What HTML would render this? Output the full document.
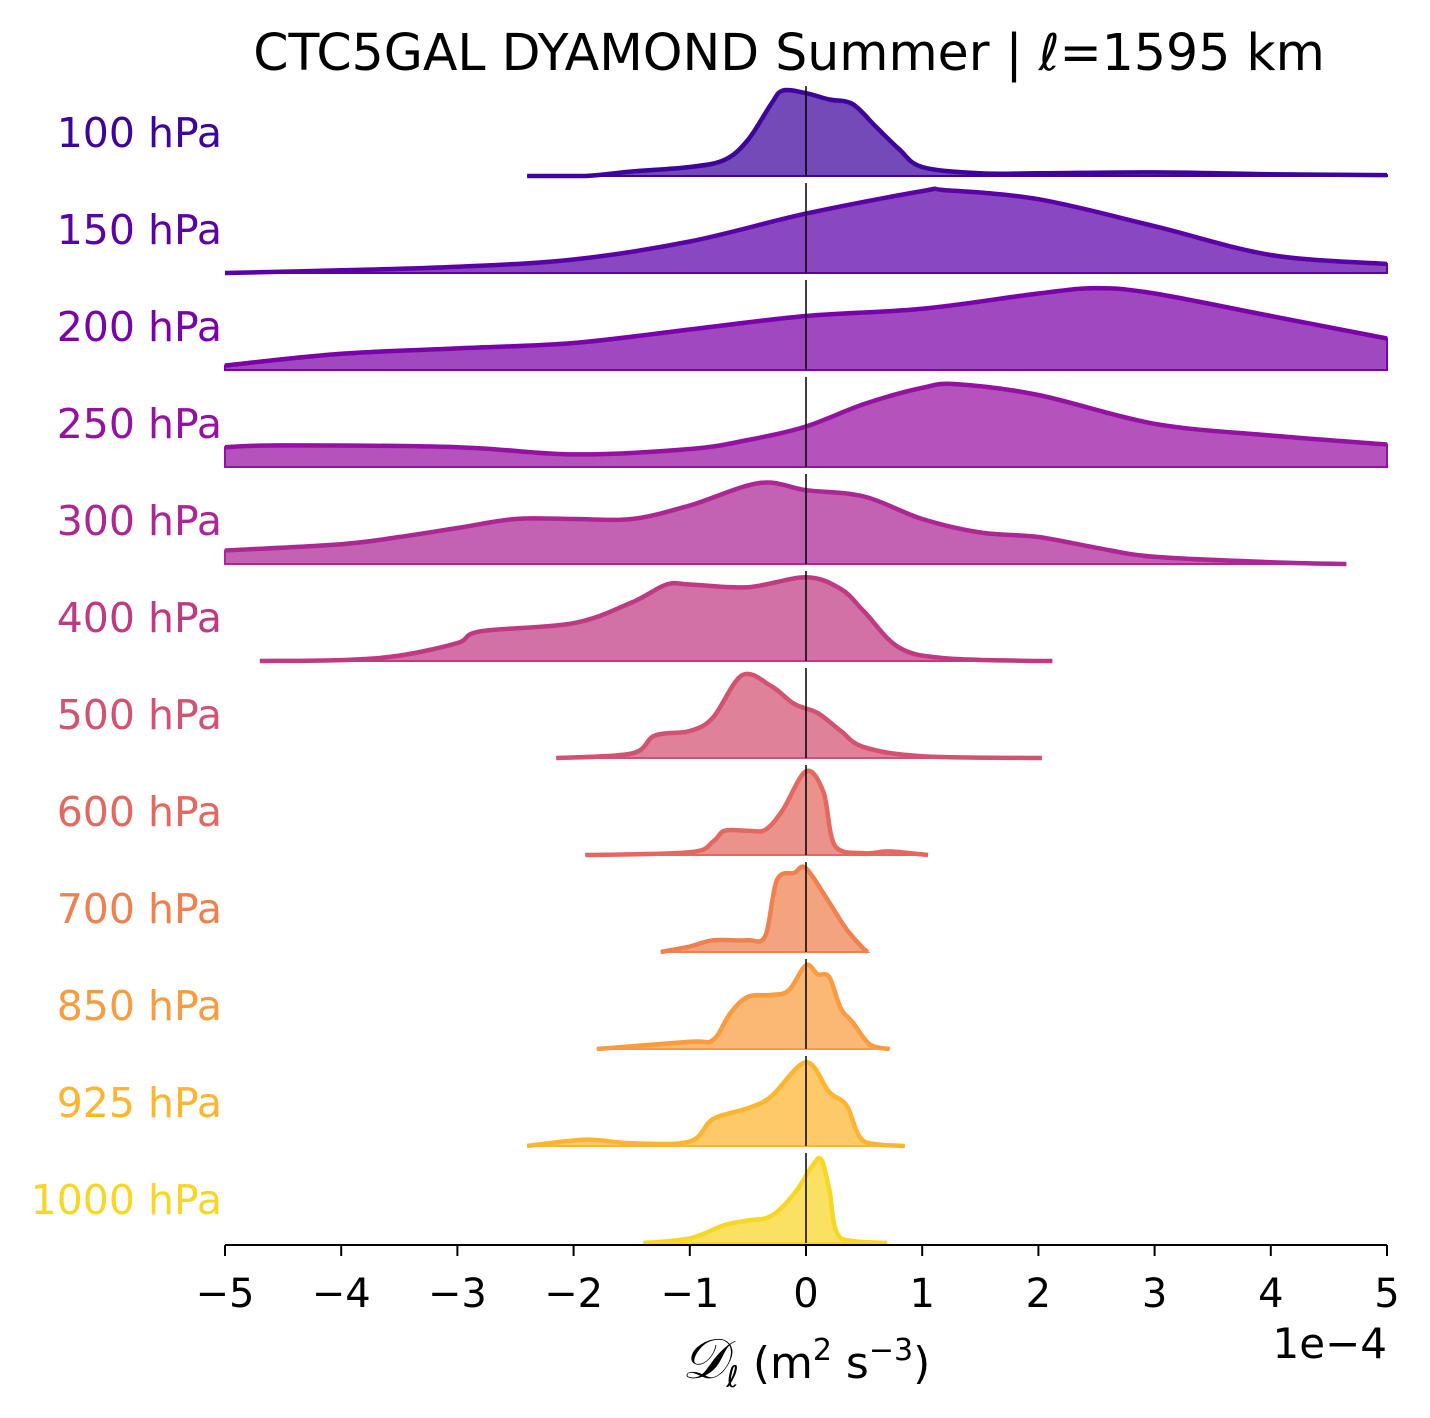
<!DOCTYPE html>
<html><head><meta charset="utf-8"><style>
body{margin:0;background:#fff}
svg{display:block;font-family:"DejaVu Sans","Liberation Sans",sans-serif}
</style></head><body>
<svg id="chart" width="1430" height="1418" viewBox="0 0 1430 1418">
<text x="789" y="70" font-size="50.5" text-anchor="middle" fill="#000">CTC5GAL DYAMOND Summer | ℓ=1595 km</text>
<g id="rows"></g>
<g id="axis"></g>
<text x="806" y="1378" font-size="44" text-anchor="middle" fill="#000"><tspan font-family="Liberation Serif,serif" font-style="italic" font-size="56">𝒟</tspan><tspan font-size="30" dy="9">ℓ</tspan><tspan dy="-9"> (m</tspan><tspan font-size="30" dy="-18">2</tspan><tspan dy="18"> s</tspan><tspan font-size="30" dy="-18">−3</tspan><tspan dy="18">)</tspan></text>
<text x="1387" y="1358" font-size="42" text-anchor="end" fill="#000">1e−4</text>
</svg>
<script>
const levels=["100 hPa","150 hPa","200 hPa","250 hPa","300 hPa","400 hPa","500 hPa","600 hPa","700 hPa","850 hPa","925 hPa","1000 hPa"];
const colors=["#3e049c","#5c01a6","#7a02a8","#9511a1","#ac2694","#c03a83","#d35171","#e3685f","#f0804e","#f99b3e","#fdb52f","#f8d624"];
const xs=[
[-2.4,-1.9,-1.5,-1,-0.7,-0.5,-0.3,-0.2,0,0.2,0.4,0.6,0.8,1.0,1.5,2,3,4,5],
[-5,-4,-3,-2,-1,0,1,1.2,2,3,4,5],
[-5,-4,-3,-2,-1,0,1,2,2.5,3,4,5],
[-5,-4.5,-3,-2,-1,-0.5,0,0.5,1,1.3,2,3,4,5],
[-5,-4,-3.5,-3,-2.5,-2,-1.5,-1,-0.4,0,0.5,1,1.5,2,2.5,3,4,4.65],
[-4.7,-4,-3.5,-3,-2.8,-2,-1.5,-1.2,-1,-0.5,0,0.3,0.5,0.8,1.2,2,2.12],
[-2.15,-1.5,-1.3,-1,-0.8,-0.55,-0.3,-0.1,0.1,0.3,0.5,1,2.03],
[-1.9,-1.0,-0.8,-0.7,-0.5,-0.35,-0.2,0,0.15,0.25,0.5,0.7,0.9,1.05],
[-1.25,-1,-0.8,-0.5,-0.35,-0.25,-0.1,0,0.2,0.35,0.5,0.53],
[-1.8,-1,-0.8,-0.65,-0.5,-0.3,-0.15,0,0.1,0.2,0.3,0.4,0.55,0.72],
[-2.4,-1.9,-1.5,-1.0,-0.8,-0.5,-0.3,0,0.2,0.35,0.5,0.85],
[-1.4,-1,-0.7,-0.5,-0.3,-0.1,0.05,0.13,0.2,0.3,0.7]];
const dens=[
[0,0,0.05,0.1,0.18,0.4,0.8,0.95,0.92,0.85,0.8,0.55,0.3,0.1,0.03,0.03,0.04,0.02,0.01],
[0,0.03,0.07,0.15,0.35,0.66,0.91,0.92,0.82,0.52,0.2,0.1],
[0.05,0.18,0.24,0.3,0.45,0.6,0.68,0.85,0.91,0.85,0.6,0.35],
[0.22,0.24,0.22,0.14,0.2,0.3,0.45,0.7,0.88,0.92,0.8,0.48,0.35,0.25],
[0.15,0.22,0.3,0.4,0.5,0.5,0.5,0.65,0.9,0.82,0.75,0.5,0.35,0.3,0.18,0.08,0.02,0],
[0,0.01,0.06,0.2,0.33,0.42,0.65,0.85,0.85,0.82,0.93,0.8,0.55,0.15,0.03,0,0],
[0,0.05,0.25,0.3,0.45,0.92,0.8,0.6,0.5,0.3,0.12,0.02,0],
[0,0.03,0.15,0.27,0.27,0.28,0.5,0.93,0.7,0.1,0.02,0.04,0.02,0],
[0,0.06,0.13,0.13,0.18,0.8,0.88,0.93,0.55,0.25,0.03,0],
[0,0.08,0.1,0.4,0.58,0.6,0.65,0.93,0.83,0.8,0.45,0.3,0.05,0],
[0,0.07,0.03,0.05,0.3,0.42,0.55,0.93,0.6,0.45,0.05,0],
[0,0.05,0.2,0.25,0.3,0.55,0.85,0.93,0.6,0.05,0]];
const ticks=[-5,-4,-3,-2,-1,0,1,2,3,4,5];
const tickLabels=["−5","−4","−3","−2","−1","0","1","2","3","4","5"];
const X0=225,X1=1387,H=90;
const xScale=v=>X0+(v+5)/10*(X1-X0);
const baseY=i=>176+i*97.0;
const yScale=(i,d)=>baseY(i)-d*H;
const NS="http://www.w3.org/2000/svg";
function mk(t,a){const e=document.createElementNS(NS,t);for(const k in a)e.setAttribute(k,a[k]);return e;}
function spline(pts,b){let d="M"+pts[0][0]+","+pts[0][1];
for(let i=0;i<pts.length-1;i++){const p0=pts[Math.max(0,i-1)],p1=pts[i],p2=pts[i+1],p3=pts[Math.min(pts.length-1,i+2)];
const c1x=p1[0]+(p2[0]-p0[0])/6,c1y=Math.min(b,p1[1]+(p2[1]-p0[1])/6);
const c2x=p2[0]-(p3[0]-p1[0])/6,c2y=Math.min(b,p2[1]-(p3[1]-p1[1])/6);
d+=" C"+c1x+","+c1y+" "+c2x+","+c2y+" "+p2[0]+","+p2[1];}return d;}
const rows=document.getElementById('rows');
levels.forEach((lv,i)=>{
const g=mk('g',{});


const b=baseY(i);
const pts=xs[i].map((x,j)=>[xScale(x),yScale(i,dens[i][j])]);
const c=spline(pts,b);
const fill=mk('path',{d:c+" L"+pts[pts.length-1][0]+","+b+" L"+pts[0][0]+","+b+" Z",fill:colors[i],'fill-opacity':0.72,stroke:colors[i],'stroke-width':2});


g.appendChild(fill);
const line=mk('path',{d:c,fill:'none',stroke:colors[i],'stroke-width':4.5,'stroke-linejoin':'round'});


g.appendChild(line);
const z=mk('line',{x1:xScale(0),x2:xScale(0),y1:b-90,y2:b,stroke:'#000','stroke-width':1.5});


g.appendChild(z);
const t=mk('text',{x:222,y:b-29,'font-size':41,'text-anchor':'end',fill:colors[i]});
t.textContent=lv;


g.appendChild(t);
rows.appendChild(g);
});
const ax=document.getElementById('axis');
const al=mk('line',{x1:X0,x2:X1,y1:1245,y2:1245,stroke:'#000','stroke-width':2});


ax.appendChild(al);
ticks.forEach((t,k)=>{
const x=xScale(t);
const tl=mk('line',{x1:x,x2:x,y1:1245,y2:1256,stroke:'#000','stroke-width':2});


ax.appendChild(tl);
const tx=mk('text',{x:x,y:1307,'font-size':40,'text-anchor':'middle',fill:'#000'});
tx.textContent=tickLabels[k];


ax.appendChild(tx);
});
</script>
</body></html>
